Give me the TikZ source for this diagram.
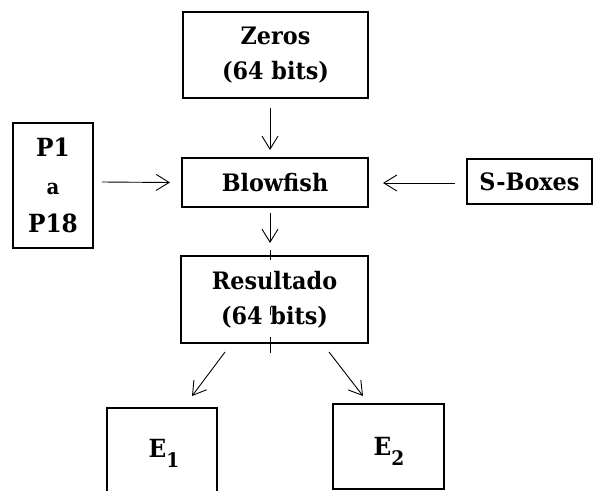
\documentclass[tikz,border=0pt]{standalone}
\usepackage{fontspec}
\setmainfont{DejaVu Serif}[FakeStretch=0.93]
\usetikzlibrary{arrows.meta}
\begin{document}
\begin{tikzpicture}[x=1pt,y=-1pt,
  box/.style={draw, line width=1.6pt, outer sep=0pt, inner sep=0pt, align=center,
    font=\bfseries\fontsize{24}{35}\selectfont},
  lbl/.style={inner sep=0pt, font=\bfseries\fontsize{25}{25}\selectfont},
  arr/.style={line width=0.9pt, -{Straight Barb[length=13pt,width=16pt,line width=0.9pt]}},
  tick/.style={line width=0.9pt}]
\useasboundingbox (0,0) rectangle (594,490);
\clip (0,0) rectangle (594,490);

% boxes
\node[box, minimum width=185pt, minimum height=86pt] (zeros) at (275.5,55) {Zeros\\(64 bits)};
\node[box, minimum width=80pt, minimum height=125pt, font=\bfseries\fontsize{25}{38}\selectfont] (p1) at (53,185.5)
  {P1\\\scalebox{1.25}{\fontsize{17}{17}\selectfont a}\\P18};
\node[box, minimum width=186pt, minimum height=49pt] (blow) at (275,182.5) {Blowfish};
\node[box, minimum width=125pt, minimum height=45pt] (sbox) at (529.5,181.5) {S-Boxes};
\node[box, minimum width=187pt, minimum height=87pt] (res) at (274.5,299.5) {Resultado\\(64 bits)};
\node[box, minimum width=110pt, minimum height=85pt] (e1) at (162,450.5) {};
\node[box, minimum width=111pt, minimum height=85pt] (e2) at (388.5,446.5) {};
\node[lbl, anchor=base] (e1t) at (164,457) {E\raisebox{-10pt}{\fontsize{20}{20}\selectfont 1}};
\node[lbl, anchor=base] (e2t) at (389,455) {E\raisebox{-10pt}{\fontsize{20}{20}\selectfont 2}};

% connectors
\draw[arr] ([xshift=-5.5pt,yshift=-10pt]zeros.south) -- ([xshift=-5pt,yshift=8pt]blow.north);
\draw[arr] ([xshift=9pt,yshift=3.5pt]p1.east) -- ([xshift=-12pt]blow.west);
\draw[arr] ([xshift=-12pt,yshift=-1.5pt]sbox.west) -- ([xshift=15pt,yshift=-0.5pt]blow.east);
\draw[arr] ([xshift=-5pt,yshift=-6pt]blow.south) -- ([xshift=-4.5pt,yshift=13pt]res.north);
\draw[arr] ([xshift=-49.5pt,yshift=-9pt]res.south) -- ([xshift=30pt,yshift=12pt]e1.north);
\draw[arr] ([xshift=54.5pt,yshift=-9pt]res.south) -- ([xshift=-25.5pt,yshift=8pt]e2.north);

% short vertical marks across the result box
\draw[tick] ([xshift=-4.5pt,yshift=6pt]res.north) -- ([xshift=-4.5pt,yshift=-4pt]res.north);
\draw[tick] ([xshift=-4.5pt,yshift=-16pt]res.north) -- ([xshift=-4.5pt,yshift=-24pt]res.north);
\draw[tick] ([xshift=-4.5pt,yshift=-51pt]res.north) -- ([xshift=-4.5pt,yshift=-59pt]res.north);
\draw[tick] ([xshift=-4.5pt,yshift=6pt]res.south) -- ([xshift=-4.5pt,yshift=-10pt]res.south);
\end{tikzpicture}
\end{document}
